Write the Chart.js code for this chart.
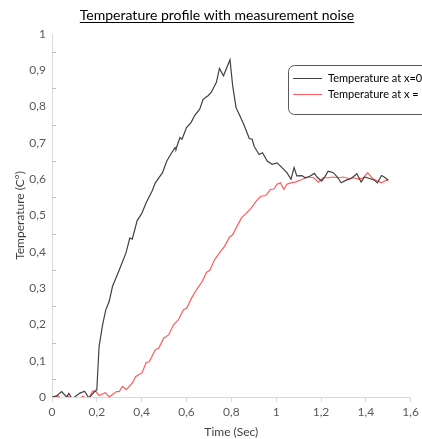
<!DOCTYPE html>
<html lang="en">
<head>
  <meta charset="UTF-8">
  <script src="https://cdn.jsdelivr.net/npm/chart.js"></script>
  <title>Temperature profile</title>
  <style>
    html, body { margin: 0; padding: 0; background: #fff; overflow: hidden; }
    #wrap { width: 422px; height: 439px; }
  </style>
</head>
<body>
  <div id="wrap"><canvas id="myChart" width="422" height="439"></canvas></div>

  <script>
    // measured temperature, sensor at x=0
    const timeX0 = [0, 0.02, 0.043, 0.065, 0.075, 0.09, 0.123, 0.145, 0.165, 0.19, 0.2, 0.21, 0.226, 0.24, 0.255, 0.27, 0.3, 0.33, 0.347, 0.358,
      0.38, 0.4, 0.42, 0.446, 0.461, 0.493, 0.512, 0.534, 0.549, 0.553, 0.571, 0.58, 0.6, 0.62, 0.637, 0.659, 0.674, 0.696, 0.71, 0.733,
      0.747, 0.765, 0.794, 0.806, 0.821, 0.835, 0.858, 0.88, 0.893, 0.902, 0.924, 0.939, 0.96, 0.982, 1.004, 1.026, 1.048, 1.066, 1.08, 1.092,
      1.115, 1.13, 1.15, 1.17, 1.185, 1.203, 1.218, 1.232, 1.255, 1.273, 1.29, 1.315, 1.335, 1.36, 1.379, 1.394, 1.416, 1.437, 1.452, 1.47,
      1.482, 1.5];
    const tempX0 = [0, 0.003, 0.015, 0, 0.01, -0.005, 0.01, 0.016, -0.003, 0.015, 0.02, 0.139, 0.2, 0.24, 0.263, 0.305, 0.35, 0.397, 0.438, 0.435,
      0.486, 0.505, 0.535, 0.567, 0.59, 0.618, 0.65, 0.673, 0.687, 0.683, 0.715, 0.71, 0.742, 0.756, 0.776, 0.793, 0.82, 0.83, 0.839, 0.866,
      0.905, 0.885, 0.929, 0.857, 0.797, 0.779, 0.747, 0.712, 0.71, 0.69, 0.668, 0.673, 0.65, 0.641, 0.645, 0.632, 0.618, 0.6, 0.632, 0.609,
      0.61, 0.604, 0.608, 0.616, 0.604, 0.595, 0.608, 0.622, 0.618, 0.606, 0.59, 0.598, 0.602, 0.615, 0.592, 0.606, 0.602, 0.598, 0.59, 0.61,
      0.606, 0.597];

    // measured temperature, second sensor
    const timeXL = [0, 0.03, 0.043, 0.07, 0.109, 0.138, 0.16, 0.182, 0.197, 0.21, 0.238, 0.255, 0.288, 0.3, 0.314, 0.332, 0.358, 0.373, 0.402, 0.42,
      0.434, 0.461, 0.476, 0.498, 0.52, 0.542, 0.564, 0.586, 0.601, 0.623, 0.645, 0.67, 0.689, 0.704, 0.725, 0.747, 0.77, 0.792, 0.806, 0.825,
      0.846, 0.865, 0.887, 0.909, 0.931, 0.953, 0.975, 0.99, 1.004, 1.019, 1.034, 1.048, 1.066, 1.085, 1.107, 1.125, 1.144, 1.167, 1.188, 1.21,
      1.232, 1.255, 1.273, 1.3, 1.323, 1.346, 1.368, 1.39, 1.408, 1.43, 1.452, 1.47, 1.49, 1.5];
    const tempXL = [-0.003, 0.002, -0.008, 0.002, -0.01, 0.002, -0.007, 0.017, 0.015, 0.004, 0.012, 0, 0.015, 0.015, 0.029, 0.02, 0.038, 0.056, 0.067, 0.095,
      0.097, 0.13, 0.134, 0.162, 0.171, 0.199, 0.213, 0.24, 0.245, 0.273, 0.296, 0.318, 0.343, 0.349, 0.378, 0.397, 0.415, 0.441, 0.447, 0.47,
      0.494, 0.505, 0.519, 0.538, 0.553, 0.555, 0.572, 0.573, 0.586, 0.59, 0.572, 0.586, 0.59, 0.592, 0.597, 0.602, 0.606, 0.604, 0.592, 0.604,
      0.604, 0.606, 0.604, 0.606, 0.602, 0.604, 0.6, 0.604, 0.618, 0.602, 0.595, 0.59, 0.597, 0.597];

    const seriesLabels = ['Temperature at x=0', 'Temperature at x = L'];
    const titleText = 'Temperature profile with measurement noise';

    const toPoints = (xs, ys) => xs.map((x, i) => ({ x: x, y: ys[i] }));
    const commaNum = v => String(+(+v).toFixed(1)).replace('.', ',');

    const fontFamily = 'Lato, "Open Sans", sans-serif';
    const textColor = '#595959';
    const axisColor = '#d9d9d9';

    // underlined heading above the plot
    const underlinedTitle = {
      id: 'underlinedTitle',
      afterDraw(chart) {
        const ctx = chart.ctx;
        ctx.save();
        ctx.font = '14px ' + fontFamily;
        ctx.fillStyle = '#000';
        ctx.textAlign = 'center';
        ctx.textBaseline = 'alphabetic';
        const cx = 217, by = 20;
        ctx.fillText(titleText, cx, by);
        const w = ctx.measureText(titleText).width;
        ctx.strokeStyle = '#000';
        ctx.lineWidth = 1;
        ctx.beginPath();
        ctx.moveTo(cx - w / 2, by + 2.5);
        ctx.lineTo(cx + w / 2, by + 2.5);
        ctx.stroke();
        ctx.restore();
      }
    };

    // small inward marks on the value axis, halfway between labels
    const yMidTicks = {
      id: 'yMidTicks',
      afterDatasetsDraw(chart) {
        const ctx = chart.ctx, y = chart.scales.y;
        ctx.save();
        ctx.strokeStyle = '#bfbfbf';
        ctx.lineWidth = 1;
        ctx.beginPath();
        for (let k = 0; k < 10; k++) {
          const py = Math.round(y.getPixelForValue(k * 0.1 + 0.05)) + 0.5;
          ctx.moveTo(y.right, py);
          ctx.lineTo(y.right + 4, py);
        }
        ctx.stroke();
        ctx.restore();
      }
    };

    // boxed legend in the upper right, runs off the canvas edge
    const boxLegend = {
      id: 'boxLegend',
      afterDraw(chart) {
        const ctx = chart.ctx;
        ctx.save();
        const x = 288.5, y = 65.5, w = 170, h = 49, r = 6;
        ctx.strokeStyle = '#595959';
        ctx.lineWidth = 1;
        ctx.beginPath();
        ctx.roundRect(x, y, w, h, r);
        ctx.stroke();
        ctx.font = '11px ' + fontFamily;
        ctx.textBaseline = 'middle';
        ctx.fillStyle = '#000';
        chart.data.datasets.forEach((ds, i) => {
          const ly = 78.5 + i * 16;
          ctx.strokeStyle = ds.borderColor;
          ctx.beginPath();
          ctx.moveTo(293, ly);
          ctx.lineTo(322, ly);
          ctx.stroke();
          ctx.fillText(ds.label, 328, ly);
        });
        ctx.restore();
      }
    };

    const config = {
      type: 'scatter',
      data: {
        datasets: [{
          label: seriesLabels[0],
          data: toPoints(timeX0, tempX0),
          borderColor: '#404040',
          backgroundColor: '#404040',
          borderWidth: 1.2,
          showLine: true,
          pointRadius: 0,
          tension: 0
        }, {
          label: seriesLabels[1],
          data: toPoints(timeXL, tempXL),
          borderColor: '#ff5c5c',
          backgroundColor: '#ff5c5c',
          borderWidth: 1.2,
          showLine: true,
          pointRadius: 0,
          tension: 0
        }]
      },
      options: {
        responsive: false,
        animation: false,
        layout: { padding: { top: 34, right: 7, left: 0, bottom: 0 } },
        plugins: {
          legend: { display: false },
          title: { display: false },
          tooltip: { enabled: false }
        },
        scales: {
          x: {
            type: 'linear',
            min: 0,
            max: 1.6,
            afterFit: s => { s.height = 42; },
            ticks: {
              stepSize: 0.2,
              color: textColor,
              font: { family: fontFamily, size: 12 },
              padding: 3,
              maxRotation: 0,
              callback: commaNum
            },
            grid: { drawOnChartArea: false, drawTicks: true, tickLength: 5, color: axisColor },
            border: { color: axisColor },
            title: {
              display: true,
              text: 'Time (Sec)',
              color: '#404040',
              font: { family: fontFamily, size: 12 },
              padding: { top: 0, bottom: 0 }
            }
          },
          y: {
            min: 0,
            max: 1,
            afterFit: s => { s.width = 52; },
            ticks: {
              stepSize: 0.1,
              color: textColor,
              font: { family: fontFamily, size: 12 },
              padding: 6,
              callback: commaNum
            },
            grid: { drawOnChartArea: false, drawTicks: false },
            border: { color: axisColor },
            title: {
              display: true,
              text: 'Temperature (C°)',
              color: '#404040',
              font: { family: fontFamily, size: 12 },
              padding: { top: 13, bottom: 0 }
            }
          }
        }
      },
      plugins: [underlinedTitle, yMidTicks, boxLegend]
    };

    const myChart = new Chart(document.getElementById('myChart'), config);
  </script>
</body>
</html>
